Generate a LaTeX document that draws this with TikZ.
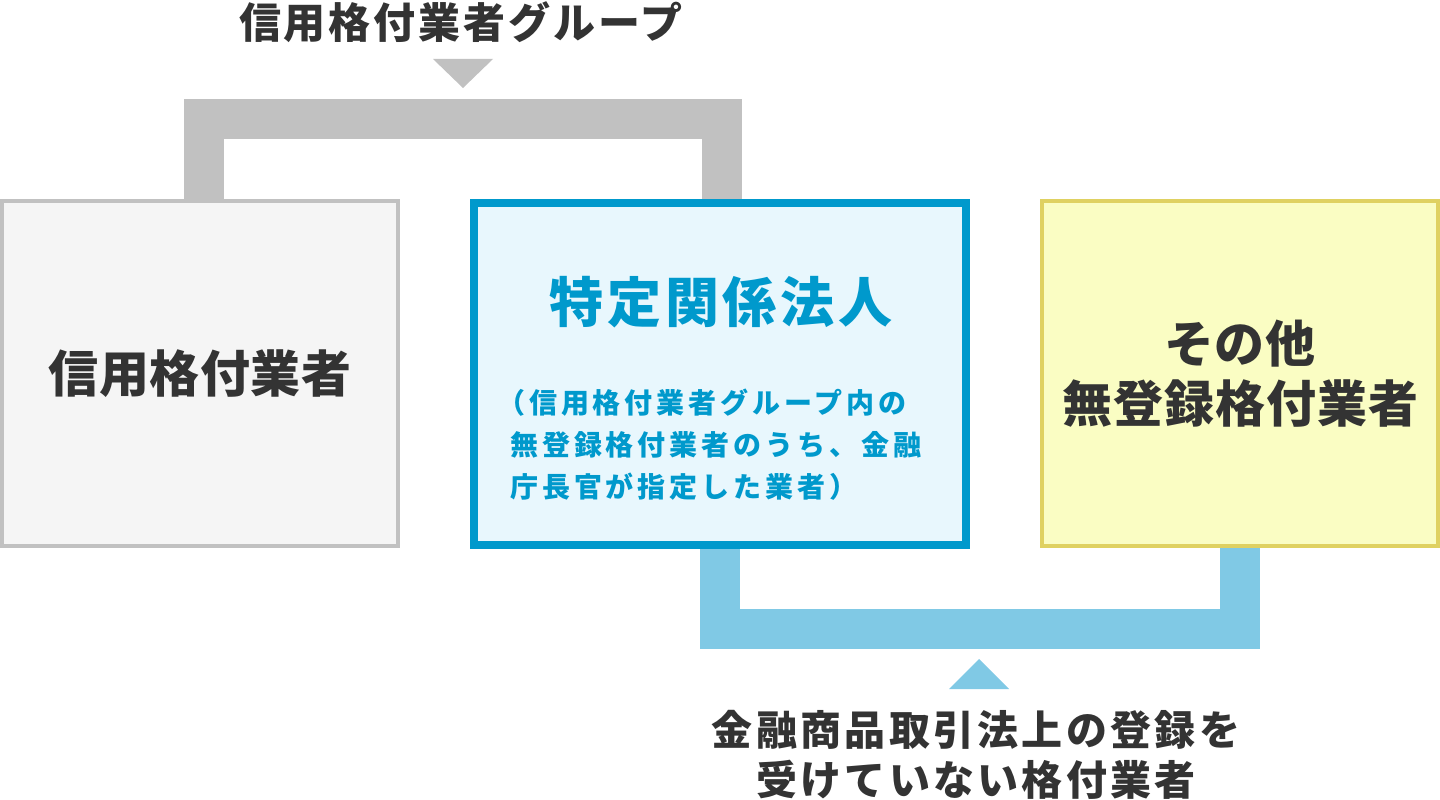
\documentclass[tikz,border=0pt]{standalone}
\usepackage{fontspec}
\newfontfamily\jpfont{Noto Sans CJK JP}
\usetikzlibrary{calc}

\definecolor{inkgray}{HTML}{333333}
\definecolor{bandgray}{HTML}{C1C1C1}
\definecolor{boxgray}{HTML}{F5F5F5}
\definecolor{deepblue}{HTML}{0099CC}
\definecolor{paleblue}{HTML}{E8F7FD}
\definecolor{bandblue}{HTML}{80C9E5}
\definecolor{paleyellow}{HTML}{FAFDC3}
\definecolor{edgeyellow}{HTML}{DFD161}

% font size, line distance, letter space
\newcommand{\jpsize}[3]{\jpfont\bfseries\fontsize{#1}{#2}\selectfont\addfontfeatures{LetterSpace=#3}}

\tikzset{
    firm/.style={draw, line width=4pt, minimum width=396pt, minimum height=345pt,
        inner sep=0pt, align=center, text=inkgray},
    band/.style={line width=40pt, line join=miter},
    caption/.style={text=inkgray, align=center, inner sep=0pt}
}

\begin{document}
\begin{tikzpicture}[x=1pt, y=-1pt]
    \useasboundingbox (0,0) rectangle (1440,800);

    \node[firm, draw=bandgray, fill=boxgray, font=\jpsize{50pt}{60pt}{1}] (rated)
        at (200,373.5) {信用格付業者};

    \node[firm, draw=deepblue, fill=paleblue, line width=8pt, minimum width=492pt,
        minimum height=342pt] (special) at (720,374) {};
    \node[caption, text=deepblue, font=\jpsize{54pt}{60pt}{7}] (specialname)
        at (721,302) {特定関係法人};
    \node[caption, text=deepblue, align=left, anchor=west, font=\jpsize{28pt}{42pt}{14}]
        (specialnote) at (510,445) {
        \kern-13pt（信用格付業者グループ内の\\
        無登録格付業者のうち、金融\\
        庁長官が指定した業者）};

    \node[firm, draw=edgeyellow, fill=paleyellow, font=\jpsize{50pt}{60pt}{2}] (others)
        at (1240,373.5) {その他\\無登録格付業者};

    % group bracket on top, register bracket below
    \draw[band, bandgray] ([xshift=4pt]rated.north) -- ++(0,-80)
        -| ([xshift=2pt]special.north);
    \draw[band, bandblue] (special.south) -- ++(0,80) -| (others.south);

    \node[caption, font=\jpsize{42pt}{50pt}{7}] (grouplabel) at (461,22)
        {信用格付業者グループ};
    \fill[bandgray] (433,59) -- ++(60,0) -- ++(-30,29) -- cycle;

    \node[caption, font=\jpsize{41pt}{50pt}{8}] (unreglabel) at (976,755)
        {金融商品取引法上の登録を\\受けていない格付業者};
    \fill[bandblue] (949,689) -- ++(60,0) -- ++(-30,-30) -- cycle;
\end{tikzpicture}
\end{document}
